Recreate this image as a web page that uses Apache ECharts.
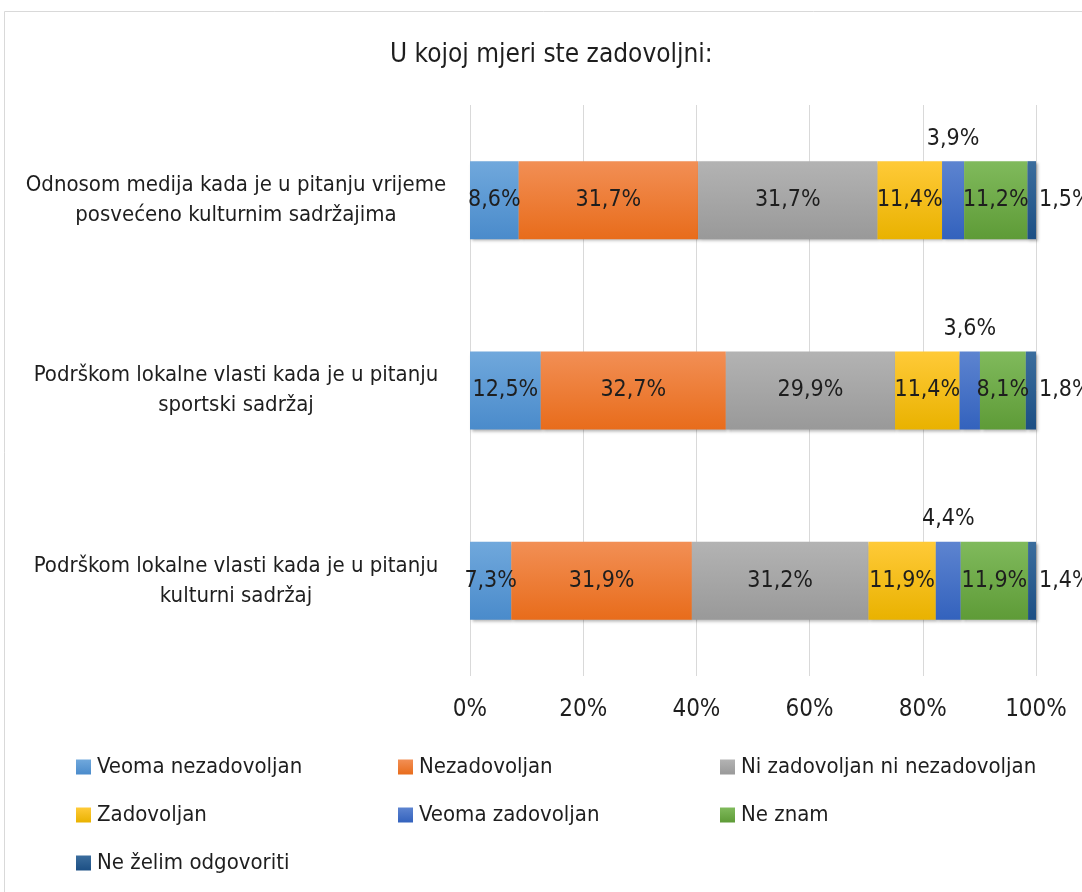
<!DOCTYPE html>
<html>
<head>
<meta charset="utf-8">
<script src="https://cdn.jsdelivr.net/npm/echarts@6/dist/echarts.min.js"></script>
<style>
  html, body { margin: 0; padding: 0; background: #fff; }
  #chart { width: 1082px; height: 892px; }
</style>
</head>
<body>
<div id="chart"></div>
<script>
const categories = [
  'Odnosom medija kada je u pitanju vrijeme\nposvećeno kulturnim sadržajima',
  'Podrškom lokalne vlasti kada je u pitanju\nsportski sadržaj',
  'Podrškom lokalne vlasti kada je u pitanju\nkulturni sadržaj'
];
const seriesNames = [
  'Veoma nezadovoljan',
  'Nezadovoljan',
  'Ni zadovoljan ni nezadovoljan',
  'Zadovoljan',
  'Veoma zadovoljan',
  'Ne znam',
  'Ne želim odgovoriti'
];
const veomaNezadovoljan = [8.6, 12.5, 7.3];
const nezadovoljan = [31.7, 32.7, 31.9];
const niZadovoljanNiNezadovoljan = [31.7, 29.9, 31.2];
const zadovoljan = [11.4, 11.4, 11.9];
const veomaZadovoljan = [3.9, 3.6, 4.4];
const neZnam = [11.2, 8.1, 11.9];
const neZelimOdgovoriti = [1.5, 1.8, 1.4];
const xTicks = [0, 20, 40, 60, 80, 100];

const seriesData = [
  veomaNezadovoljan,
  nezadovoljan,
  niZadovoljanNiNezadovoljan,
  zadovoljan,
  veomaZadovoljan,
  neZnam,
  neZelimOdgovoriti
];

// top / bottom shades for each segment
const barColors = [
  ['#70a8dc', '#4a8bcb'],
  ['#f28f55', '#e86c1b'],
  ['#b3b3b3', '#999999'],
  ['#ffca38', '#e9b200'],
  ['#5d84d0', '#3362bd'],
  ['#80ba5c', '#5e9b37'],
  ['#3b6d9d', '#1c4f84']
];

const font = "'DejaVu Sans Condensed', 'Liberation Sans Narrow', sans-serif";
const textColor = '#1e1e1e';
const fontSize = 23;

const fmt = v => v.toFixed(1).replace('.', ',') + '%';

function labelFor(i) {
  const base = {
    show: true,
    fontFamily: font,
    fontSize,
    color: textColor,
    formatter: p => fmt(p.value)
  };
  if (i === 4) return Object.assign(base, { position: 'top', distance: 11 });
  if (i === 6) return Object.assign(base, { position: 'right', distance: 3 });
  return Object.assign(base, { position: 'inside' });
}

const chart = echarts.init(document.getElementById('chart'), null, { renderer: 'canvas' });

const option = {
  animation: false,
  backgroundColor: '#fff',
  textStyle: { fontFamily: font },
  graphic: [{
    type: 'rect',
    shape: { x: 4.5, y: 11.5, width: 1200, height: 1000 },
    style: { fill: 'none', stroke: '#d9d9d9', lineWidth: 1 },
    silent: true
  }],
  title: {
    text: 'U kojoj mjeri ste zadovoljni:',
    left: 385,
    top: 37,
    textStyle: { fontFamily: font, fontSize: 26, fontWeight: 'normal', color: textColor }
  },
  legend: {
    data: seriesNames,
    left: 76,
    top: 753,
    width: 1000,
    padding: 0,
    orient: 'horizontal',
    itemWidth: 15,
    itemHeight: 15,
    itemGap: 20,
    icon: 'rect',
    textStyle: {
      fontFamily: font,
      fontSize: 22,
      color: textColor,
      width: 281,
      height: 28,
      lineHeight: 28,
      padding: [0, 0, 0, 1]
    }
  },
  grid: {
    left: 470,
    right: 46,
    top: 105,
    bottom: 216,
    containLabel: false,
    outerBoundsMode: 'none'
  },
  xAxis: {
    type: 'value',
    min: 0,
    max: 100,
    interval: 20,
    axisLine: { show: false },
    axisTick: { show: false },
    splitLine: { lineStyle: { color: '#d9d9d9', width: 1 } },
    axisLabel: {
      fontFamily: font,
      fontSize: 24,
      color: textColor,
      margin: 22,
      formatter: v => (xTicks.indexOf(v) >= 0 ? v + '%' : '')
    }
  },
  yAxis: {
    type: 'category',
    inverse: true,
    data: categories,
    axisLine: { show: false },
    axisTick: { show: false },
    axisLabel: {
      fontFamily: font,
      fontSize: 22,
      color: textColor,
      lineHeight: 30,
      align: 'center',
      margin: 234
    }
  },
  series: seriesNames.map((name, i) => ({
    name,
    type: 'bar',
    stack: 'total',
    barWidth: 78,
    data: seriesData[i],
    label: labelFor(i),
    itemStyle: {
      color: new echarts.graphic.LinearGradient(0, 0, 0, 1, [
        { offset: 0, color: barColors[i][0] },
        { offset: 1, color: barColors[i][1] }
      ]),
      shadowColor: 'rgba(0,0,0,0.3)',
      shadowBlur: 3,
      shadowOffsetX: 2,
      shadowOffsetY: 2
    }
  }))
};

chart.setOption(option);
</script>
</body>
</html>
